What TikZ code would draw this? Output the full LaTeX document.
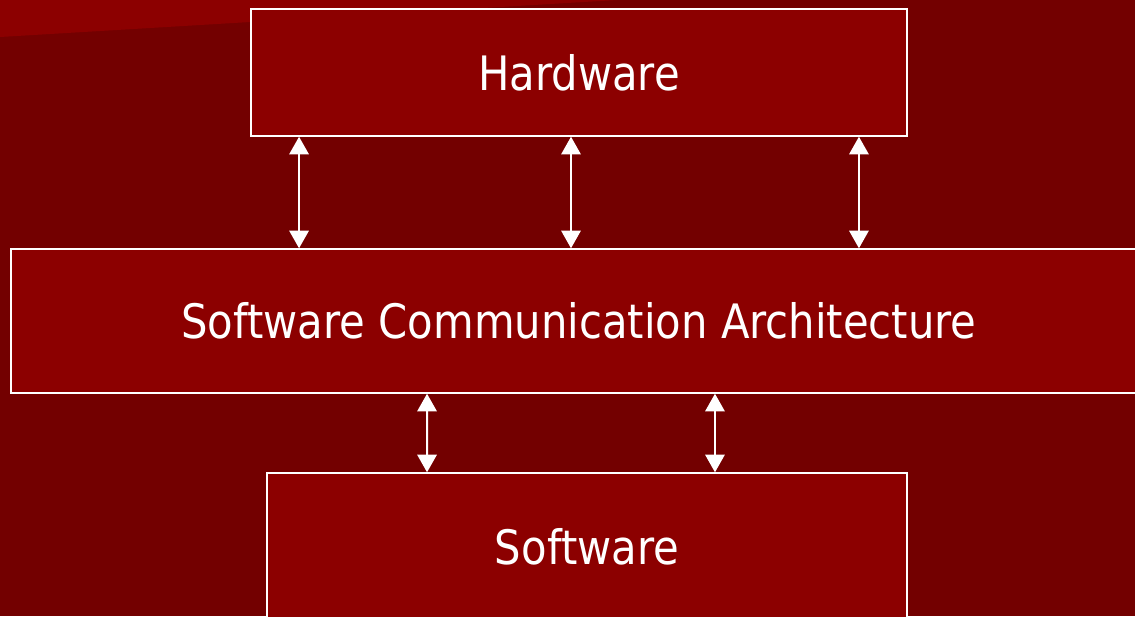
\documentclass[tikz,border=0pt]{standalone}
\usepackage{fontspec}
\setmainfont[FakeStretch=0.88]{DejaVu Sans}
\usetikzlibrary{arrows.meta}
\definecolor{bgred}{HTML}{730000}
\definecolor{boxred}{HTML}{8C0000}
\tikzset{
	layer/.style={draw=white, line width=0.85pt, fill=boxred, text=white,
		font=\fontsize{27}{31}\selectfont, inner sep=0pt},
	link/.style={white, line width=1.1pt,
		{Triangle[width=11pt,length=10pt]}-{Triangle[width=11pt,length=10pt]}}
}
\begin{document}
\begin{tikzpicture}[x=0.02cm, y=-0.02cm]
	% background
	\fill[bgred] (0,0) rectangle (1135,616);
	\fill[boxred] (0,0) -- (0,37) -- (617,0) -- cycle;
	\useasboundingbox (0,0) rectangle (1135,616);
	
	% layers
	\node[layer, minimum width=13.12cm, minimum height=2.54cm] (hw) at (579,72.5) {Hardware};
	\node[layer, minimum width=22.72cm, minimum height=2.88cm] (sca) at (579,321) {Software Communication Architecture};
	\node[layer, minimum width=12.8cm, minimum height=2.96cm] (sw) at (587,547) {Software};
	
	% links
	\draw[link] ([xshift=-5.6cm]hw.south) -- ([xshift=-5.6cm]sca.north);
	\draw[link] ([xshift=-0.16cm]hw.south) -- ([xshift=-0.16cm]sca.north);
	\draw[link] ([xshift=5.6cm]hw.south) -- ([xshift=5.6cm]sca.north);
	\draw[link] ([xshift=-3.04cm]sca.south) -- ([xshift=-3.2cm]sw.north);
	\draw[link] ([xshift=2.72cm]sca.south) -- ([xshift=2.56cm]sw.north);
\end{tikzpicture}
\end{document}
